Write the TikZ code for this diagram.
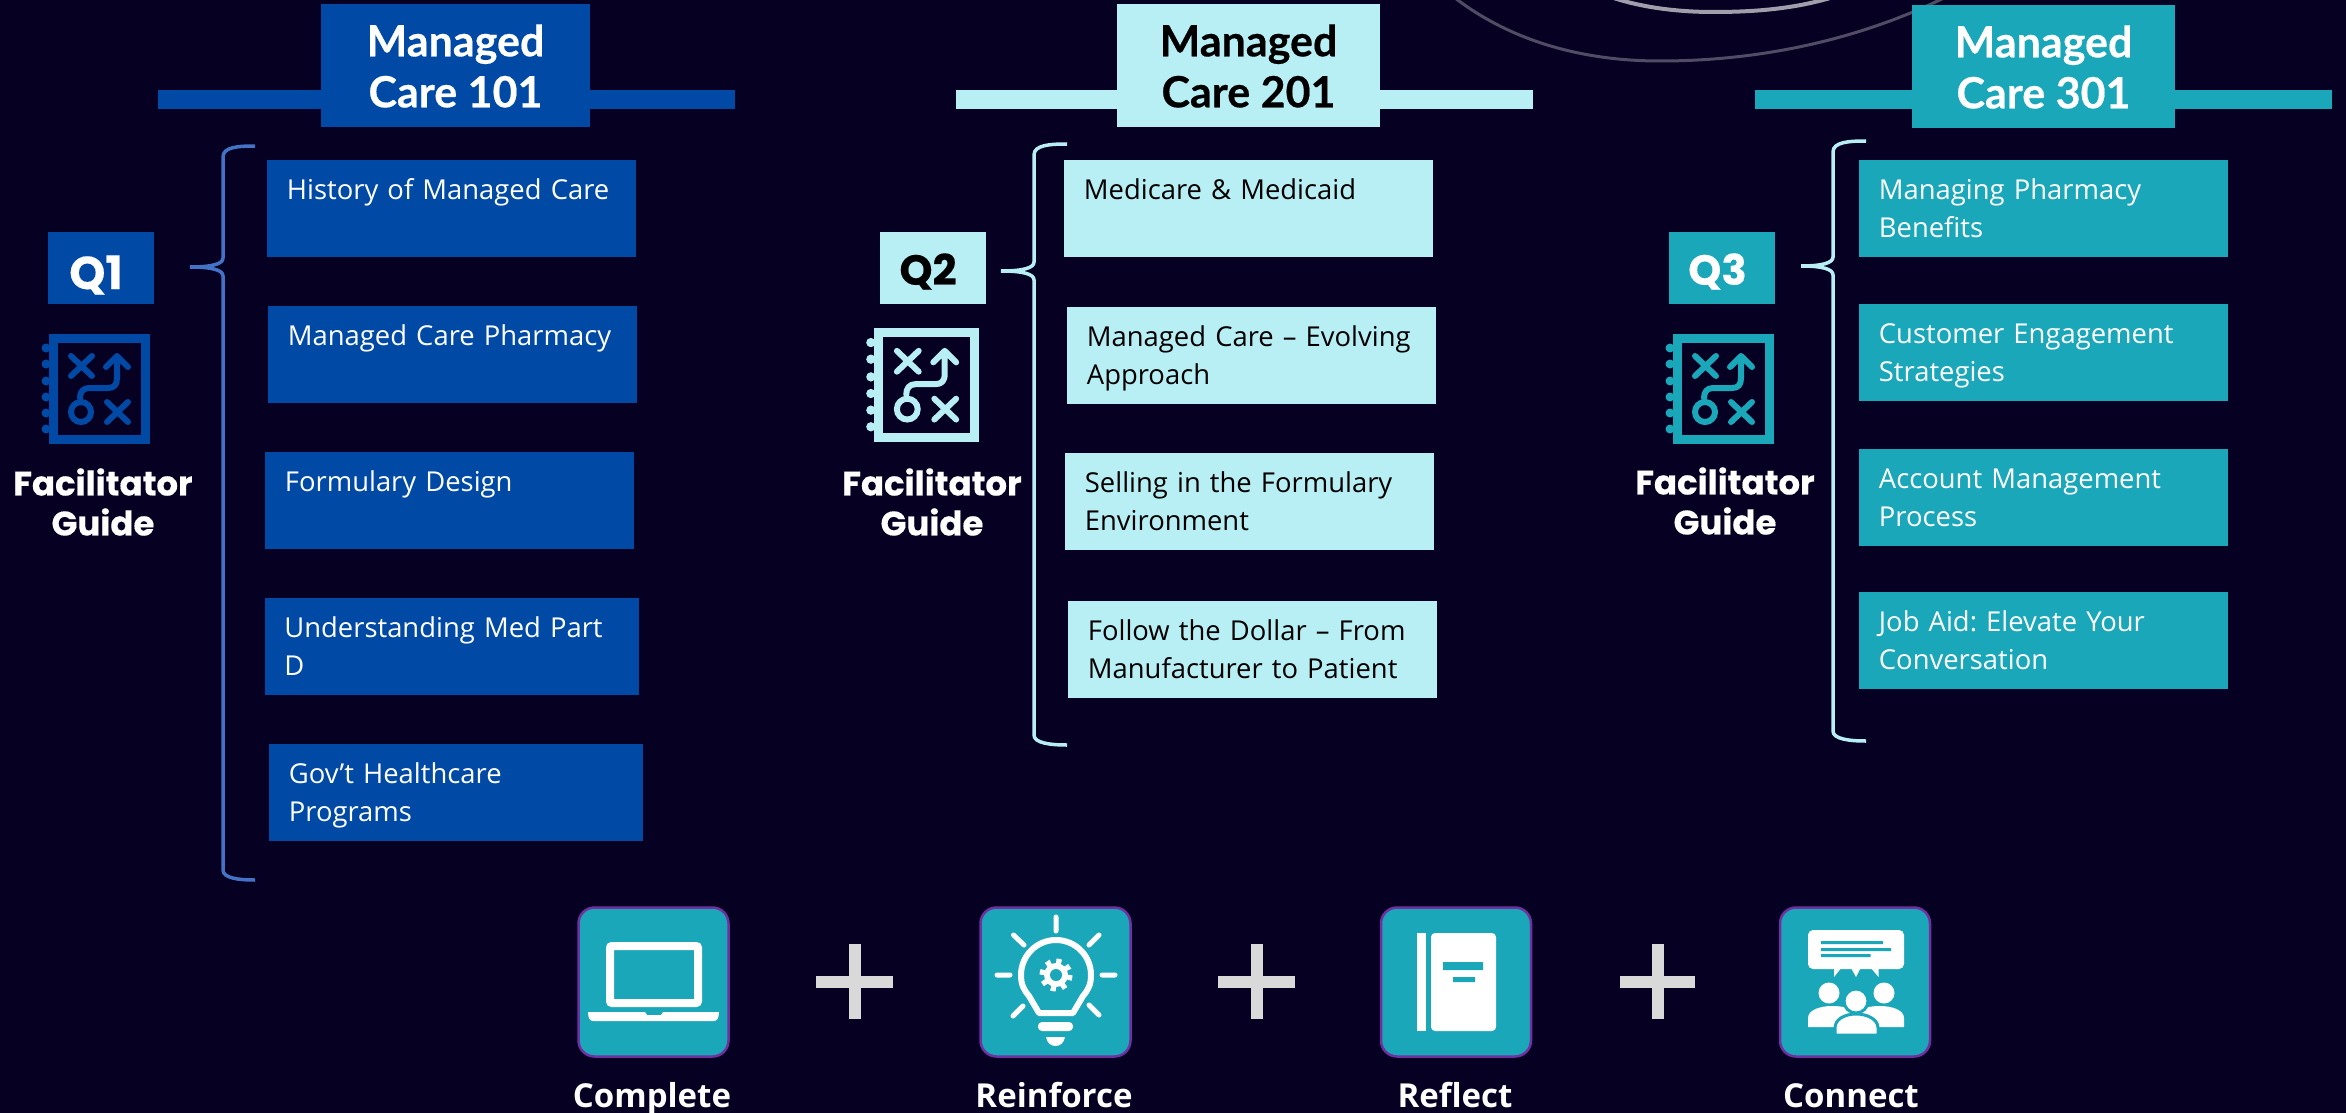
\documentclass[tikz,border=0pt]{standalone}
\usepackage{fontspec}
\setmainfont{Open Sans}
\newfontfamily\headfont{Lato}[BoldFeatures={FakeBold=0.4}]
\newfontfamily\roundfont{Poppins}[BoldFeatures={FakeBold=0.3}]
\definecolor{pagebg}{HTML}{060022}
\definecolor{bluefill}{HTML}{004AA6}
\definecolor{palefill}{HTML}{B8EFF5}
\definecolor{tealfill}{HTML}{1AA7BA}
\definecolor{bracecol}{HTML}{4472C4}
\definecolor{tileline}{HTML}{7030A0}
\definecolor{pluscol}{HTML}{D9D9D9}
\tikzset{
    pics/guide icon/.style={code={
        \draw[#1,line width=4.5pt] (4.5,4.5) rectangle (96.5,105.5);
        \fill[#1] (-3,14) circle[radius=4.5] (-3,30) circle[radius=4.5] (-3,47) circle[radius=4.5]
            (-3,63) circle[radius=4.5] (-3,79) circle[radius=4.5] (-3,95) circle[radius=4.5];
        \draw[#1,line width=3pt,line cap=round,line join=round]
            (22,22) -- (43,42) (22,42) -- (43,22)
            (58,68) -- (79,88) (58,88) -- (79,68)
            (57,33) -- (68,22) -- (79,33)
            (68,22) -- (68,44) .. controls (68,51) and (65,54) .. (59,54) -- (40,54)
            .. controls (34,54) and (31,58) .. (31,64);
        \draw[#1,line width=3pt] (32,78) circle[radius=10];
    }}
}
\begin{document}
\frenchspacing
\begin{tikzpicture}[x=0.5pt,y=-0.5pt]
    \tikzstyle{head node}=[inner sep=0,minimum width=131.5pt,minimum height=61.5pt,align=center,
        font=\headfont\bfseries\fontsize{21.5}{25.5}\selectfont]
    \tikzstyle{bar node}=[inner sep=0,minimum width=288.5pt,minimum height=9.25pt]
    \tikzstyle{item node}=[inner xsep=9.75pt,inner ysep=0,text width=165pt,minimum height=48.5pt,align=left,
        font=\fontsize{13.7}{19}\selectfont,
        execute at begin node={\rule{0pt}{15.3pt}},execute at end node=\strut]
    \tikzstyle{q node}=[inner sep=0,minimum width=53pt,minimum height=36pt,text height=16.7pt,text depth=0pt,
        font=\roundfont\bfseries\fontsize{21}{24}\selectfont]
    \tikzstyle{guide node}=[inner sep=0,align=center,text=white,
        font=\roundfont\bfseries\fontsize{17}{20}\selectfont]
    \tikzstyle{tile node}=[draw=tileline,line width=1.25pt,fill=tealfill,rounded corners=8pt,inner sep=0,
        minimum width=75pt,minimum height=74.5pt]
    \tikzstyle{step node}=[inner sep=0,anchor=base,text=white,font=\bfseries\fontsize{16.5}{20}\selectfont]
    \tikzset{
    blue node/.style={fill=bluefill,text=white},
    pale node/.style={fill=palefill,text=black},
    teal node/.style={fill=tealfill,text=white},
    brace line/.style={line width=1.75pt},
    plus line/.style={pluscol,line width=6pt},
    icon line/.style={white,line width=3pt,line cap=round,line join=round}
    }
    \useasboundingbox (0,0) rectangle (2346,1113);
    \clip (0,0) rectangle (2346,1113);
    \fill[pagebg] (0,0) rectangle (2346,1113);
    % swirl at the top
    \draw[color=white!30!pagebg,line width=1.5pt] (1455,-2) .. controls (1510,40) and (1580,61) .. (1660,61)
        .. controls (1760,61) and (1860,40) .. (1950,-5);
    \draw[color=white!62!pagebg,line width=2pt] (1605,-5) .. controls (1640,8) and (1680,12) .. (1713,12)
        .. controls (1760,12) and (1800,8) .. (1840,-5);
    % first column
    \node[bar node,blue node] (bar1) at (446.5,99.5) {};
    \node[head node,blue node,minimum width=134.5pt] (head1) at (455.5,66) {Managed\\Care 101};
    \node[q node,blue node,text height=21pt,font=\roundfont\bfseries\fontsize{23}{24}\selectfont] (q1) at (101,268) {Q1\kern5pt};
    \pic[scale=1] at (49,334) {guide icon=bluefill};
    \node[guide node] (guide1) at (103,502) {Facilitator\\Guide};
    \draw[bracecol,brace line] (255,146) .. controls (238,146) and (223,147) .. (223,157) -- (223,258)
        .. controls (223,264) and (212,267) .. (190,267) .. controls (212,267) and (223,270) .. (223,276)
        -- (223,870) .. controls (223,878) and (238,880) .. (255,880);
    \node[item node,blue node,anchor=north west] (a1) at (267,160) {History of Managed Care\\~};
    \node[item node,blue node,anchor=north west] (a2) at (268,306) {Managed Care Pharmacy\\~};
    \node[item node,blue node,anchor=north west] (a3) at (265,452) {Formulary Design\\~};
    \node[item node,blue node,anchor=north west,text width=167.5pt] (a4) at (264.5,598) {Understanding Med Part\\D};
    \node[item node,blue node,anchor=north west,text width=167.5pt] (a5) at (269,744) {Gov\symbol{39}t Healthcare\\Programs};
    % second column
    \node[bar node,pale node] (bar2) at (1244.5,99.5) {};
    \node[head node,pale node] (head2) at (1248.5,66) {Managed\\Care 201};
    \node[q node,pale node] (q2) at (933,268) {Q2\kern5pt};
    \pic[scale=1.04] at (874,328) {guide icon=palefill};
    \node[guide node] (guide2) at (932,502) {Facilitator\\Guide};
    \draw[palefill,brace line] (1067,144) .. controls (1050,144) and (1034,145) .. (1034,155) -- (1034,262)
        .. controls (1034,268) and (1023,271) .. (1001,271) .. controls (1023,271) and (1034,274) .. (1034,280)
        -- (1034,735) .. controls (1034,743) and (1050,745) .. (1067,745);
    \node[item node,pale node,anchor=north west] (b1) at (1064,160) {Medicare \& Medicaid\\~};
    \node[item node,pale node,anchor=north west] (b2) at (1067,307) {Managed Care -- Evolving\\Approach};
    \node[item node,pale node,anchor=north west] (b3) at (1065,453) {Selling in the Formulary\\Environment};
    \node[item node,pale node,anchor=north west] (b4) at (1068,601) {Follow the Dollar -- From\\Manufacturer to Patient};
    % third column
    \node[bar node,teal node] (bar3) at (2043.5,99.5) {};
    \node[head node,teal node] (head3) at (2043.5,67) {Managed\\Care 301};
    \node[q node,teal node] (q3) at (1721.5,268) {Q3\kern4pt};
    \pic[scale=1] at (1673,334) {guide icon=tealfill};
    \node[guide node] (guide3) at (1725,501) {Facilitator\\Guide};
    \draw[palefill,brace line] (1866,141) .. controls (1849,141) and (1833,142) .. (1833,152) -- (1833,257)
        .. controls (1833,263) and (1822,266) .. (1801,266) .. controls (1822,266) and (1833,269) .. (1833,275)
        -- (1833,731) .. controls (1833,739) and (1849,741) .. (1866,741);
    \node[item node,teal node,anchor=north west] (c1) at (1859,160) {Managing Pharmacy\\Benefits};
    \node[item node,teal node,anchor=north west] (c2) at (1859,304) {Customer Engagement\\Strategies};
    \node[item node,teal node,anchor=north west] (c3) at (1859,449) {Account Management\\Process};
    \node[item node,teal node,anchor=north west] (c4) at (1859,592) {Job Aid: Elevate Your\\Conversation};
    % bottom row
    \node[tile node] (tile1) at (653.5,982) {};
    \node[tile node] (tile2) at (1055.5,982) {};
    \node[tile node] (tile3) at (1456,982) {};
    \node[tile node] (tile4) at (1855,982) {};
    \draw[plus line] (816,982) -- (893,982) (854.5,944) -- (854.5,1019);
    \draw[plus line] (1218,982) -- (1295,982) (1256.5,944) -- (1256.5,1019);
    \draw[plus line] (1620,982) -- (1695,982) (1657.5,944) -- (1657.5,1019);
    \node[step node] (step1) at (652,1107) {Complete};
    \node[step node] (step2) at (1054,1107) {Reinforce};
    \node[step node] (step3) at (1455,1107) {Reflect};
    \node[step node] (step4) at (1851,1107) {Connect};
    % laptop
    \draw[white,line width=4pt,rounded corners=1pt] (610,946) rectangle (698,1003);
    \fill[white] (588,1012) -- (645,1012) -- (647,1015) -- (661,1015) -- (663,1012) -- (719,1012)
        .. controls (719,1018) and (717,1021) .. (714,1021) -- (593,1021) .. controls (590,1021) and (588,1018) .. (588,1012) -- cycle;
    % lightbulb
    \draw[icon line,line width=2.5pt] (1056,917) -- (1056,931) (1013.5,935) -- (1024,945) (1099,935) -- (1089,945)
        (997,975) -- (1010,975) (1102,975) -- (1115,975) (1013,1016) -- (1023,1006) (1099,1015) -- (1089,1005);
    \draw[icon line] (1039,1013) -- (1029,996) .. controls (1024,990) and (1021,985) .. (1021,975)
        arc[start angle=180,end angle=360,radius=35] .. controls (1091,985) and (1088,990) .. (1083,996) -- (1073,1013) -- cycle;
    \fill[white] (1056,975) circle[radius=12];
    \draw[white,line width=2.5pt,dash pattern=on 2.6pt off 2.9pt] (1056,975) circle[radius=14];
    \fill[tealfill] (1056,975) circle[radius=6];
    \fill[white,rounded corners=2pt] (1038,1022) rectangle (1073,1031);
    \fill[white] (1046,1037) -- (1065,1037) .. controls (1064,1043) and (1060,1046) .. (1055.5,1046) .. controls (1051,1046) and (1047,1043) .. (1046,1037) -- cycle;
    % notebook
    \fill[white] (1417,933) rectangle (1425.5,1031);
    \fill[white,rounded corners=2pt] (1431,933) rectangle (1496,1031);
    \fill[tealfill] (1443,962) rectangle (1483,970) (1453,977) rectangle (1475,982);
    % group
    \fill[white,rounded corners=2.5pt] (1808,930) rectangle (1904,969);
    \fill[white] (1834,967) -- (1834,977) -- (1842,967) -- cycle (1850.5,967) -- (1856,977) -- (1861,967) -- cycle
        (1878.5,967) -- (1878.5,977) -- (1870,967) -- cycle;
    \fill[tealfill] (1821,941) rectangle (1883,944) (1821,948) rectangle (1891,951) (1821,954) rectangle (1870.5,957);
    \fill[white] (1829,993) circle[radius=10.5] (1884,993) circle[radius=10.5];
    \fill[white] (1808,1027) -- (1808,1018) .. controls (1808,1010) and (1820,1006) .. (1832,1006)
        .. controls (1850,1006) and (1860,1012) .. (1860,1027) -- cycle;
    \fill[white] (1904,1027) -- (1904,1018) .. controls (1904,1010) and (1892,1006) .. (1880,1006)
        .. controls (1862,1006) and (1852,1012) .. (1852,1027) -- cycle;
    \draw[tealfill,fill=white,line width=1.5pt] (1835,1035) -- (1835,1028) .. controls (1835,1019) and (1845,1014) .. (1856,1014)
        .. controls (1867,1014) and (1878,1019) .. (1878,1028) -- (1878,1035) -- cycle;
    \draw[tealfill,fill=white,line width=1.5pt] (1856,1001) circle[radius=12];
\end{tikzpicture}
\end{document}
